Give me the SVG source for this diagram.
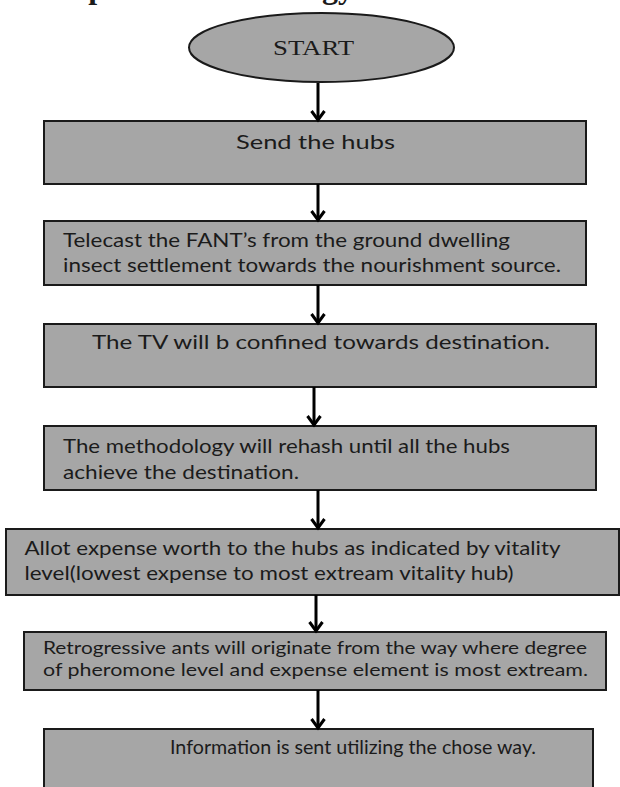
<svg xmlns="http://www.w3.org/2000/svg" width="620" height="787" viewBox="0 0 620 787">
<style>
.box{fill:#a6a6a6;stroke:#1a1a1a;stroke-width:2}
.t{font-family:Lato,"Liberation Sans",sans-serif;font-size:19px;fill:#1b1b1b}
.ts{font-family:Lato,"Liberation Sans",sans-serif;font-size:17px;fill:#1b1b1b}
.serif{font-family:"Liberation Serif","Times New Roman",serif;fill:#1b1b1b}
.conn line{stroke:#000;stroke-width:3;marker-end:url(#ah)}
</style>
<defs>
<marker id="ah" markerUnits="userSpaceOnUse" markerWidth="20" markerHeight="20" viewBox="-12 -10 16 20" refX="0" refY="0" orient="auto">
<path d="M-9,-6.5 L0,0 L-9,6.5" fill="none" stroke="#000" stroke-width="3" stroke-linejoin="miter"/>
</marker>
</defs>
<text class="serif" x="39" y="-2.5" font-size="32" font-weight="bold">Proposed Methodology</text>
<g id="start">
<ellipse class="box" cx="321.5" cy="47.5" rx="132.5" ry="34.5" stroke-width="2.5"/>
<text class="serif" x="273" y="54.5" font-size="22" textLength="81" lengthAdjust="spacingAndGlyphs">START</text>
</g>
<g id="n1">
<rect class="box" x="44" y="121" width="542" height="63"/>
<text class="t" x="236" y="149" font-size="20" textLength="159" lengthAdjust="spacingAndGlyphs">Send the hubs</text>
</g>
<g id="n2">
<rect class="box" x="44" y="221" width="542" height="64"/>
<text class="t" x="63" y="247" textLength="447" lengthAdjust="spacingAndGlyphs">Telecast the FANT’s from the ground dwelling</text>
<text class="t" x="63" y="272" textLength="498" lengthAdjust="spacingAndGlyphs">insect settlement towards the nourishment source.</text>
</g>
<g id="n3">
<rect class="box" x="44" y="324" width="552" height="63"/>
<text class="t" x="92" y="349" textLength="458" lengthAdjust="spacingAndGlyphs">The TV will b confined towards destination.</text>
</g>
<g id="n4">
<rect class="box" x="44" y="426" width="552" height="64"/>
<text class="t" x="63" y="453" textLength="447" lengthAdjust="spacingAndGlyphs">The methodology will rehash until all the hubs</text>
<text class="t" x="63" y="479" textLength="236" lengthAdjust="spacingAndGlyphs">achieve the destination.</text>
</g>
<g id="n5">
<rect class="box" x="6" y="529" width="613" height="66"/>
<text class="t" x="24.5" y="555" textLength="536" lengthAdjust="spacingAndGlyphs">Allot expense worth to the hubs as indicated by vitality</text>
<text class="t" x="24.5" y="580" textLength="489" lengthAdjust="spacingAndGlyphs">level(lowest expense to most extream vitality hub)</text>
</g>
<g id="n6">
<rect class="box" x="24" y="632" width="582" height="58"/>
<text class="ts" x="43" y="654" textLength="544" lengthAdjust="spacingAndGlyphs">Retrogressive ants will originate from the way where degree</text>
<text class="ts" x="43" y="676" textLength="545" lengthAdjust="spacingAndGlyphs">of pheromone level and expense element is most extream.</text>
</g>
<g id="n7">
<rect class="box" x="44" y="729" width="549" height="66"/>
<text class="t" x="170" y="754" textLength="366" lengthAdjust="spacingAndGlyphs">Information is sent utilizing the chose way.</text>
</g>
<g id="connectors" class="conn">
<line x1="318" y1="83" x2="318" y2="120"/>
<line x1="318" y1="184" x2="318" y2="220"/>
<line x1="318" y1="285" x2="318" y2="323"/>
<line x1="314" y1="387" x2="314" y2="425"/>
<line x1="318" y1="490" x2="318" y2="528"/>
<line x1="316" y1="595" x2="316" y2="631"/>
<line x1="318" y1="690" x2="318" y2="728"/>
</g>
</svg>
